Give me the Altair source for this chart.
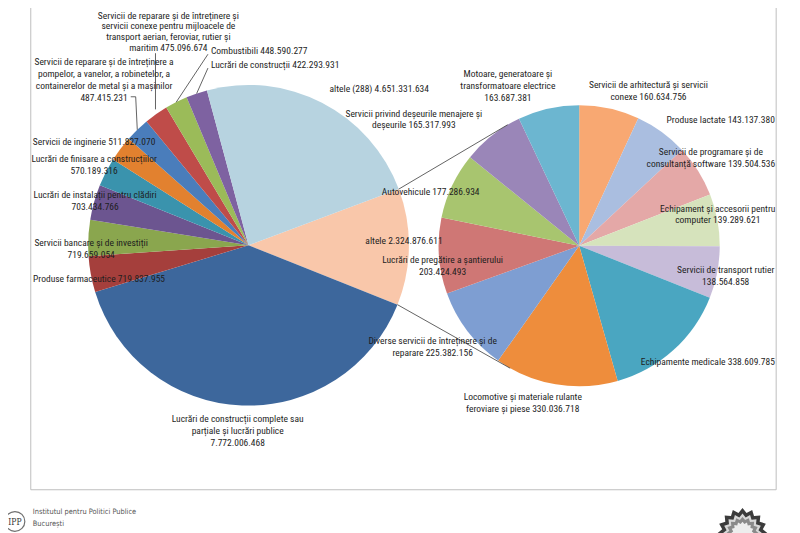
import math
import altair as alt
import pandas as pd

# ---------------- data ----------------
# main pie, clockwise starting at the "altele" slice that is expanded in the second pie
main_names = [
    "altele",
    "Lucrări de construcții complete sau\nparțiale și lucrări publice\n",
    "Produse farmaceutice",
    "Servicii bancare și de investiții\n",
    "Lucrări de instalații pentru clădiri\n",
    "Lucrări de finisare a construcțiilor\n",
    "Servicii de inginerie",
    "Servicii de reparare și de întreținere a\npompelor, a vanelor, a robinetelor, a\ncontainerelor de metal și a mașinilor\n",
    "Servicii de reparare și de întreținere și\nservicii conexe pentru mijloacele de\ntransport aerian, feroviar, rutier și\nmaritim",
    "Combustibili",
    "Lucrări de construcții",
    "altele (288)",
]
main_values = [2324876611, 7772006468, 719837955, 719659054, 703434766, 570189316,
               511827070, 487415231, 475096674, 448590277, 422293931, 4651331634]
main_colors = ["#F9C7AA", "#3D679C", "#A53F3C", "#8AA64E", "#6C5590", "#3A93AD",
               "#E2812F", "#4A7DBB", "#BF4C49", "#9BBB59", "#7E62A1", "#B7D3E0"]

# secondary pie ("altele" broken down), clockwise from 12 o'clock
sec_names = [
    "Servicii de arhitectură și servicii\nconexe",
    "Produse lactate",
    "Servicii de programare și de\nconsultanță software",
    "Echipament și accesorii pentru\ncomputer",
    "Servicii de transport rutier\n",
    "Echipamente medicale",
    "Locomotive și materiale rulante\nferoviare și piese",
    "Diverse servicii de întreținere și de\nreparare",
    "Lucrări de pregătire a șantierului\n",
    "Autovehicule",
    "Servicii privind deșeurile menajere și\ndeșeurile",
    "Motoare, generatoare și\ntransformatoare electrice\n",
]
sec_values = [160634756, 143137380, 139504536, 139289621, 138564858, 338609785,
              330036718, 225382156, 203424493, 177286934, 165317993, 163687381]
sec_colors = ["#F8A872", "#AABEE0", "#E4A8A7", "#D6E3BC", "#C7BCD9", "#4AA6C1",
              "#EE8D3C", "#7E9ED2", "#CF7775", "#A8C56F", "#9A86B8", "#6CB6D0"]

# ---------------- layout (page pixels; the page has an 8 px margin) ----------------
OFF = 8
W, H = 800 - OFF, 533 - OFF
FONT = "Liberation Sans Narrow, Arial Narrow, Roboto Condensed, sans-serif"

def px(v):
    return v - OFF

MAIN_C = (251, 245)
MAIN_R = 162
MAIN_START = 69.5          # degrees, clockwise from 12 o'clock
SEC_C = (585, 245.5)
SEC_R = 142
SEC_START = 0.0

# label anchors (page px): x = block centre (or left edge), y = first text line
main_label_xy = [(408, 241), (240, 421), (100, 279), (92, 243), (96, 194), (95, 158),
                 (95, 141), (105, 60), (170, 13), (213, 49), (213, 63), (383, 87)]
main_label_align = ["center"] * 8 + ["tight", "left", "left", "center"]
sec_label_xy = [(655, 83), (728, 118), (718, 151), (725, 208), (733, 270), (715, 363),
                (528, 398), (437, 342), (447, 260), (435, 191), (418, 112), (513, 72)]


def fmt(v):
    return f"{v:,}".replace(",", ".")


def label(name, v):
    return name + ("" if name.endswith("\n") else " ") + fmt(v)


def mid_angles(values, start):
    tot = sum(values)
    out, acc = [], 0.0
    for v in values:
        a = v / tot * 360
        out.append(start + acc + a / 2)
        acc += a
    return out


def on_circle(c, r, ang_deg):
    a = math.radians(ang_deg)
    return (c[0] + r * math.sin(a), c[1] - r * math.cos(a))


main_df = pd.DataFrame({"name": main_names, "value": main_values,
                        "col": main_colors, "ord": range(len(main_names))})
sec_df = pd.DataFrame({"name": sec_names, "value": sec_values,
                       "col": sec_colors, "ord": range(len(sec_names))})


def pie(df, c, r, start):
    a0 = math.radians(start)
    return alt.Chart(df).mark_arc(outerRadius=r).encode(
        x=alt.value(px(c[0])), y=alt.value(px(c[1])),
        theta=alt.Theta("value:Q", stack=True,
                        scale=alt.Scale(range=[a0, a0 + 2 * math.pi])),
        order=alt.Order("ord:Q"),
        color=alt.Color("col:N", scale=None, legend=None),
    )


# labels table
rows = []
for i, (n, v) in enumerate(zip(main_names, main_values)):
    x, y = main_label_xy[i]
    rows.append({"txt": label(n, v), "lx": px(x), "ly": px(y), "al": main_label_align[i]})
for i, (n, v) in enumerate(zip(sec_names, sec_values)):
    x, y = sec_label_xy[i]
    rows.append({"txt": label(n, v), "lx": px(x), "ly": px(y), "al": "center"})
lab_df = pd.DataFrame(rows)


def text_layer(df, align, lh=12):
    return alt.Chart(df).mark_text(
        font=FONT, fontSize=9.6, lineBreak="\n", lineHeight=lh, align=align,
        baseline="middle", color="#1E1E1E"
    ).encode(
        x=alt.X("lx:Q", scale=None, axis=None),
        y=alt.Y("ly:Q", scale=None, axis=None),
        text="txt:N",
    )

labels_c = text_layer(lab_df[lab_df.al == "center"], "center")
labels_t = text_layer(lab_df[lab_df.al == "tight"], "center", lh=11)
labels_l = text_layer(lab_df[lab_df.al == "left"], "left")

# leader lines for the small slices on the main pie (from slice edge to label)
mids = mid_angles(main_values, MAIN_START)
seg = []
p7 = on_circle(MAIN_C, MAIN_R, mids[7])
seg.append((p7[0], p7[1], 137, 95))
seg.append((137, 95, 132, 95))
p8 = on_circle(MAIN_C, MAIN_R + 6, mids[8])
seg.append((157, p8[1], 157, 51))
p9 = on_circle(MAIN_C, MAIN_R, mids[9])
seg.append((p9[0], p9[1], 210, 52))
p10 = on_circle(MAIN_C, MAIN_R, mids[10])
seg.append((p10[0], p10[1], 210, 66))

# connector lines: edges of the "altele" slice tangent to the secondary pie
tot = sum(main_values)
span = main_values[0] / tot * 360
e_top = on_circle(MAIN_C, MAIN_R, MAIN_START)
e_bot = on_circle(MAIN_C, MAIN_R, MAIN_START + span)


def tangent(p, c, r, upper):
    vx, vy = p[0] - c[0], p[1] - c[1]
    d = math.hypot(vx, vy)
    alpha = math.acos(r / d)
    base = math.atan2(vy, vx)
    ang = base + alpha if upper else base - alpha
    return (c[0] + r * math.cos(ang), c[1] + r * math.sin(ang))

t_top = tangent(e_top, SEC_C, SEC_R, True)
t_bot = tangent(e_bot, SEC_C, SEC_R, False)
if t_top[1] > SEC_C[1]:
    t_top = tangent(e_top, SEC_C, SEC_R, False)
if t_bot[1] < SEC_C[1]:
    t_bot = tangent(e_bot, SEC_C, SEC_R, True)
seg.append((e_top[0], e_top[1], t_top[0], t_top[1]))
seg.append((e_bot[0], e_bot[1], t_bot[0], t_bot[1]))

seg_df = pd.DataFrame([{"x": px(a), "y": px(b), "x2": px(c), "y2": px(d)} for a, b, c, d in seg])
leaders = alt.Chart(seg_df).mark_rule(color="#3A3A3A", strokeWidth=0.8).encode(
    x=alt.X("x:Q", scale=None), y=alt.Y("y:Q", scale=None),
    x2="x2:Q", y2="y2:Q",
)

# chart frame
frame = alt.Chart(pd.DataFrame({"k": [0]})).mark_rect(
    fill="white", stroke="#BDBDBD", strokeWidth=1
).encode(
    x=alt.value(px(31)), x2=alt.value(px(784)),
    y=alt.value(px(-10)), y2=alt.value(px(492)),
)

# footer logos
logo_circle = alt.Chart(pd.DataFrame({"k": [0]})).mark_point(
    shape="circle", size=400, filled=False, color="#333", strokeWidth=1.2
).encode(x=alt.value(px(15)), y=alt.value(px(524)))
logo_ipp = alt.Chart(pd.DataFrame({"t": ["IPP"]})).mark_text(
    font="DejaVu Serif Condensed, serif", fontSize=8.5, color="#333"
).encode(x=alt.value(px(15)), y=alt.value(px(525)), text="t:N")
logo_txt = alt.Chart(pd.DataFrame({"t": ["Institutul pentru Politici Publice\nBucurești"]})).mark_text(
    font="DejaVu Sans Condensed, sans-serif", fontSize=7.5, color="#555", align="left",
    baseline="top", lineBreak="\n", lineHeight=13
).encode(x=alt.value(px(33)), y=alt.value(px(510)), text="t:N")

n = 16
pts = []
for k in range(2 * n):
    rr = 1.0 if k % 2 == 0 else 0.82
    a = math.pi * k / n
    pts.append(f"{rr * math.sin(a):.3f},{-rr * math.cos(a):.3f}")
star_path = "M" + " L".join(pts) + " Z"
orn = alt.Chart(pd.DataFrame({"k": [0, 1, 2, 3], "s": [2600, 1600, 1100, 550],
                              "c": ["#3C3C3C", "#D8D8D8", "#8A8A8A", "#EDEDED"]})).mark_point(
    filled=True, opacity=1
).encode(
    x=alt.value(px(750)), y=alt.value(px(536)),
    shape=alt.value(star_path),
    size=alt.Size("s:Q", scale=None, legend=None),
    color=alt.Color("c:N", scale=None, legend=None),
    order=alt.Order("k:Q"),
)

chart = alt.layer(
    frame,
    pie(main_df, MAIN_C, MAIN_R, MAIN_START),
    pie(sec_df, SEC_C, SEC_R, SEC_START),
    leaders,
    labels_c,
    labels_t,
    labels_l,
    logo_circle, logo_ipp, logo_txt, orn,
).resolve_scale(theta="independent").properties(
    width=W, height=H, padding=0, autosize=alt.AutoSizeParams(type="none"),
    background="white",
).configure_view(stroke=None)

chart.save("out.html", embed_options={"renderer": "svg", "actions": False})
